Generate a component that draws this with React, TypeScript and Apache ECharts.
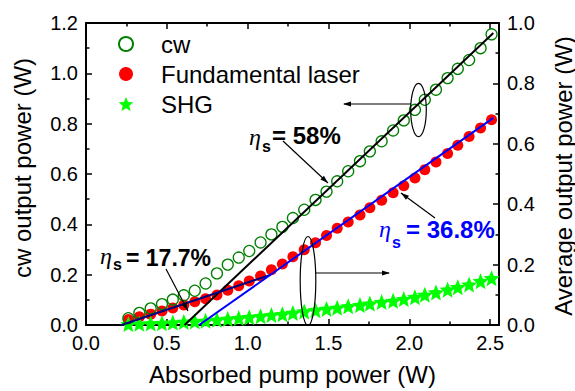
import React, { useEffect, useRef } from 'react';
import * as echarts from 'echarts';

const pumpPower = [0.262, 0.33, 0.4, 0.47, 0.537, 0.605, 0.673, 0.74, 0.81, 0.877, 0.945, 1.01, 1.08, 1.147, 1.215, 1.28, 1.35, 1.42, 1.488, 1.554, 1.622, 1.695, 1.756, 1.829, 1.9, 1.966, 2.035, 2.096, 2.165, 2.237, 2.3, 2.37, 2.441, 2.509];
const cwPower = [0.027, 0.048, 0.066, 0.083, 0.101, 0.118, 0.136, 0.165, 0.205, 0.24, 0.268, 0.294, 0.328, 0.36, 0.39, 0.425, 0.458, 0.497, 0.53, 0.571, 0.611, 0.651, 0.69, 0.73, 0.773, 0.813, 0.855, 0.895, 0.935, 0.981, 1.018, 1.053, 1.1, 1.155];
const fundamentalPower = [0.018, 0.027, 0.036, 0.046, 0.056, 0.066, 0.077, 0.087, 0.099, 0.115, 0.13, 0.146, 0.162, 0.183, 0.202, 0.226, 0.249, 0.272, 0.296, 0.32, 0.341, 0.364, 0.388, 0.413, 0.438, 0.461, 0.487, 0.514, 0.54, 0.568, 0.595, 0.624, 0.652, 0.68];
const shgPower = [0.003, 0.004, 0.005, 0.006, 0.008, 0.01, 0.012, 0.014, 0.017, 0.02, 0.023, 0.026, 0.029, 0.033, 0.036, 0.04, 0.045, 0.049, 0.053, 0.057, 0.062, 0.066, 0.071, 0.076, 0.08, 0.086, 0.092, 0.1, 0.108, 0.117, 0.125, 0.134, 0.145, 0.155];

// linear fits (start / end points)
const fitCw = [[0.61, 0], [2.52, 1.16]];
const fitFundLow = [[0.22, 0], [1.14, 0.166]];
const fitFundHigh = [[0.7, 0], [2.52, 0.686]];

const seriesNames = ['cw', 'Fundamental laser', 'SHG'];
const axisTitles = { x: 'Absorbed pump power (W)', yLeft: 'cw output power (W)', yRight: 'Average output power (W)' };
const xTicks = { min: 0, max: 2.555, interval: 0.5 };
const yLeftTicks = { min: 0, max: 1.2, interval: 0.2 };
const yRightTicks = { min: 0, max: 1.0, interval: 0.2 };

const FONT = '"Liberation Sans", Arial, Helvetica, sans-serif';
const SERIF = '"Liberation Serif", "DejaVu Serif", serif';
const STAR = 'path://M0,-10 L2.645,-3.641 L9.511,-3.09 L4.28,1.391 L5.878,8.09 L0,4.5 L-5.878,8.09 L-4.28,1.391 L-9.511,-3.09 L-2.645,-3.641 Z';

const zip = (xs: number[], ys: number[]) => xs.map((x, i) => [x, ys[i]]);

function txt(x: number, y: number, text: string, size: number, opts: any = {}) {
  return {
    type: 'text', x, y, silent: true, z: 100, rotation: opts.rotation || 0,
    style: {
      text, fontSize: size, fontFamily: opts.family || FONT,
      fontWeight: opts.weight || 'normal', fontStyle: opts.style || 'normal',
      fill: opts.color || '#000', align: opts.align || 'left', verticalAlign: 'middle',
    },
  };
}
function seg(x1: number, y1: number, x2: number, y2: number) {
  return { type: 'line', silent: true, z: 100, shape: { x1, y1, x2, y2 }, style: { stroke: '#000', lineWidth: 1.2 } };
}
function head(x: number, y: number, fromX: number, fromY: number) {
  const a = Math.atan2(y - fromY, x - fromX);
  const L = 8, W = 2.6;
  const bx = x - L * Math.cos(a), by = y - L * Math.sin(a);
  const px = -Math.sin(a) * W, py = Math.cos(a) * W;
  return { type: 'polygon', silent: true, z: 100, shape: { points: [[x, y], [bx + px, by + py], [bx - px, by - py]] }, style: { fill: '#000' } };
}
function ell(cx: number, cy: number, rx: number, ry: number) {
  return { type: 'ellipse', silent: true, z: 100, shape: { cx, cy, rx, ry }, style: { fill: 'none', stroke: '#000', lineWidth: 1.2 } };
}

export default function App() {
  const ref = useRef<HTMLDivElement>(null);
  useEffect(() => {
    if (!ref.current) return;
    const chart = echarts.init(ref.current, undefined, { renderer: 'svg' });
    const axisCommon = {
      axisLine: { show: true, onZero: false, lineStyle: { color: '#000', width: 2 } },
      axisTick: { show: true, inside: true, length: 6, lineStyle: { color: '#000', width: 1.5 } },
      minorTick: { show: true, splitNumber: 2, length: 3.5, lineStyle: { color: '#000', width: 1.5 } },
      splitLine: { show: false },
    };
    const labelCommon = { color: '#000', fontSize: 20, fontFamily: FONT, margin: 8, formatter: (v: number) => v.toFixed(1) };
    chart.setOption({
      animation: false,
      backgroundColor: '#fff',
      grid: { left: 86, right: 76, top: 23, bottom: 65, containLabel: false },
      legend: {
        data: [
          { name: 'cw', icon: 'circle' },
          { name: 'Fundamental laser', icon: 'circle' },
          { name: 'SHG', icon: STAR },
        ],
        orient: 'vertical', left: 118, top: 32, padding: 0,
        itemWidth: 60, itemHeight: 14, itemGap: 6,
        textStyle: { fontSize: 24, fontFamily: FONT, color: '#000', lineHeight: 24 },
      },
      xAxis: [
        {
          type: 'value', position: 'bottom', ...xTicks, ...axisCommon,
          axisLabel: { ...labelCommon, showMaxLabel: false },
          name: axisTitles.x, nameLocation: 'middle', nameGap: 37,
          nameTextStyle: { fontSize: 24, fontFamily: FONT, color: '#000' },
        },
        {
          type: 'value', position: 'top', ...xTicks, ...axisCommon,
          axisLabel: { show: false },
        },
      ],
      yAxis: [
        {
          type: 'value', position: 'left', ...yLeftTicks, ...axisCommon,
          axisLabel: { ...labelCommon },
        },
        {
          type: 'value', position: 'right', ...yRightTicks, ...axisCommon,
          axisLabel: { ...labelCommon },
        },
      ],
      series: [
        {
          name: seriesNames[0], type: 'scatter', xAxisIndex: 0, yAxisIndex: 0,
          data: zip(pumpPower, cwPower), symbol: 'circle', symbolSize: 11,
          itemStyle: { color: 'rgba(255,255,255,0)', borderColor: '#008000', borderWidth: 1.3, opacity: 1 }, z: 3,
        },
        {
          name: seriesNames[1], type: 'scatter', xAxisIndex: 0, yAxisIndex: 1,
          data: zip(pumpPower, fundamentalPower), symbol: 'circle', symbolSize: 11,
          itemStyle: { color: '#ff0000', opacity: 1 }, z: 2,
        },
        {
          name: seriesNames[2], type: 'scatter', xAxisIndex: 0, yAxisIndex: 1,
          data: zip(pumpPower, shgPower), symbol: STAR, symbolSize: 16,
          itemStyle: { color: '#00ff00', opacity: 1 }, z: 2,
        },
        {
          name: 'fit cw', type: 'line', xAxisIndex: 0, yAxisIndex: 0, data: fitCw,
          showSymbol: false, symbol: 'none', lineStyle: { color: '#000', width: 2 }, z: 5,
        },
        {
          name: 'fit low', type: 'line', xAxisIndex: 0, yAxisIndex: 1, data: fitFundLow,
          showSymbol: false, symbol: 'none', lineStyle: { color: '#000080', width: 2 }, z: 5,
        },
        {
          name: 'fit high', type: 'line', xAxisIndex: 0, yAxisIndex: 1, data: fitFundHigh,
          showSymbol: false, symbol: 'none', lineStyle: { color: '#0000ff', width: 2 }, z: 5,
        },
      ],
      graphic: [
        // axis titles
        txt(22, 168, axisTitles.yLeft, 24, { rotation: Math.PI / 2, align: 'center' }),
        txt(563, 176, axisTitles.yRight, 24, { rotation: Math.PI / 2, align: 'center' }),
        // eta = 58%
        txt(249, 137, 'η', 24, { family: SERIF, style: 'italic' }),
        txt(262, 146, 's', 16, { weight: 'bold' }),
        txt(272, 135, '= 58%', 24, { weight: 'bold' }),
        seg(283, 141, 328, 183), head(328, 183, 283, 141),
        // eta = 17.7%
        txt(100, 256, 'η', 24, { family: SERIF, style: 'italic' }),
        txt(113, 264, 's', 16, { weight: 'bold' }),
        txt(126, 258, '= 17.7%', 23, { weight: 'bold' }),
        seg(166, 269, 188, 311), head(188, 311, 166, 269),
        // eta = 36.8%
        txt(379, 229, 'η', 24, { family: SERIF, style: 'italic', color: '#0000ff' }),
        txt(392, 242, 's', 16, { weight: 'bold', color: '#0000ff' }),
        txt(406, 229, '= 36.8%', 24, { weight: 'bold', color: '#0000ff' }),
        seg(435, 218, 401, 193), head(401, 193, 435, 218),
        // ellipses with arrows
        ell(418.5, 110, 7.8, 26.7),
        seg(411, 104, 344, 104), head(343, 104, 411, 104),
        ell(308, 281, 7.8, 44.5),
        seg(316, 273, 389, 273), head(390, 273, 316, 273),
      ],
    });
    return () => chart.dispose();
  }, []);
  return <div ref={ref} style={{ position: 'fixed', left: 0, top: 0, width: 575, height: 391 }} />;
}
